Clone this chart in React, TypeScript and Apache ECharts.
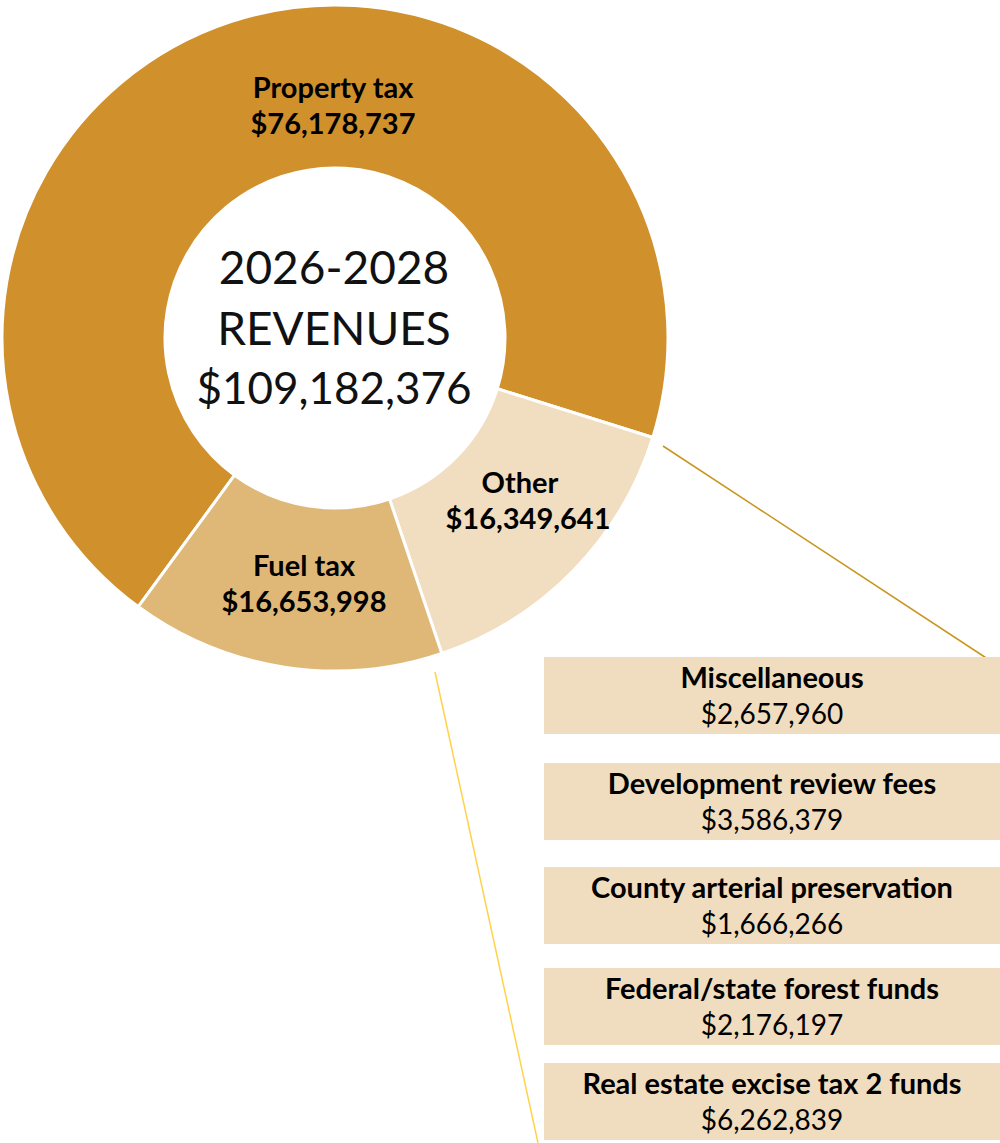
import React, { useEffect, useRef } from "react";
import * as echarts from "echarts";

const sliceNames = ["Property tax", "Other", "Fuel tax"];
const sliceValues = [76178737, 16349641, 16653998];
const sliceColors = ["#D0902C", "#F1DDBF", "#DFB878"];

const otherNames = [
  "Miscellaneous",
  "Development review fees",
  "County arterial preservation",
  "Federal/state forest funds",
  "Real estate excise tax 2 funds",
];
const otherValues = [2657960, 3586379, 1666266, 2176197, 6262839];

const centerTitle = ["2026-2028", "REVENUES"];

// label anchor positions (layout only)
const sliceLabelPos = [
  [333, 86],
  [520, 481],
  [304, 564],
];
const boxTops = [657, 763, 867, 968, 1063];

const fmt = (v: number) => "$" + v.toLocaleString("en-US");
const FONT = "Lato, 'Noto Sans', sans-serif";

export default function App() {
  const ref = useRef<HTMLDivElement>(null);
  useEffect(() => {
    document.body.style.margin = "0";
    const chart = echarts.init(ref.current!, null, { renderer: "svg" });
    const total = sliceValues.reduce((a, b) => a + b, 0);
    const graphics: any[] = [];

    // center circle text
    const centerLines = [...centerTitle, fmt(total)];
    const centerYs = [266, 327, 387];
    const centerSizes = [46, 46, 44];
    centerLines.forEach((t, i) => {
      graphics.push({
        type: "text",
        x: 334,
        y: centerYs[i],
        style: {
          text: t,
          fontFamily: FONT,
          fontSize: centerSizes[i],
          fill: "#111",
          align: "center",
          verticalAlign: "middle",
        },
        z: 10,
      });
    });

    // slice labels
    sliceNames.forEach((n, i) => {
      const [x, y] = sliceLabelPos[i];
      graphics.push({
        type: "text",
        x,
        y,
        style: {
          text: n,
          fontFamily: FONT,
          fontWeight: "bold",
          fontSize: 29,
          fill: "#000",
          align: "center",
          verticalAlign: "middle",
        },
        z: 10,
      });
      graphics.push({
        type: "text",
        x: x + (i === 1 ? 8 : 0),
        y: y + 36,
        style: {
          text: fmt(sliceValues[i]),
          fontFamily: FONT,
          fontWeight: "bold",
          fontSize: 29,
          fill: "#000",
          align: "center",
          verticalAlign: "middle",
        },
        z: 10,
      });
    });

    // connector lines
    graphics.push({
      type: "line",
      shape: { x1: 663, y1: 446, x2: 1000, y2: 667 },
      style: { stroke: "#C8951E", lineWidth: 1.5 },
      z: 5,
    });
    graphics.push({
      type: "line",
      shape: { x1: 435, y1: 672, x2: 538, y2: 1143 },
      style: { stroke: "#FFD24A", lineWidth: 1.5 },
      z: 5,
    });

    // breakdown boxes
    otherNames.forEach((n, i) => {
      const top = boxTops[i];
      graphics.push({
        type: "rect",
        shape: { x: 544, y: top, width: 470, height: 77 },
        style: { fill: "#F0DCBE" },
        z: 6,
      });
      graphics.push({
        type: "text",
        x: 772,
        y: top + 19,
        style: {
          text: n,
          fontFamily: FONT,
          fontWeight: "bold",
          fontSize: 29,
          fill: "#000",
          align: "center",
          verticalAlign: "middle",
        },
        z: 7,
      });
      graphics.push({
        type: "text",
        x: 772,
        y: top + 56,
        style: {
          text: fmt(otherValues[i]),
          fontFamily: FONT,
          fontSize: 28,
          fill: "#000",
          align: "center",
          verticalAlign: "middle",
        },
        z: 7,
      });
    });

    chart.setOption({
      animation: false,
      backgroundColor: "#fff",
      series: [
        {
          type: "pie",
          center: [335, 338],
          radius: [170, 333],
          startAngle: 233.8,
          clockwise: true,
          label: { show: false },
          labelLine: { show: false },
          emphasis: { disabled: true },
          itemStyle: { borderColor: "#fff", borderWidth: 3 },
          data: sliceNames.map((n, i) => ({
            name: n,
            value: sliceValues[i],
            itemStyle: { color: sliceColors[i] },
          })),
        },
      ],
      graphic: graphics,
    });
    return () => chart.dispose();
  }, []);
  return <div ref={ref} style={{ width: 1000, height: 1143 }} />;
}
